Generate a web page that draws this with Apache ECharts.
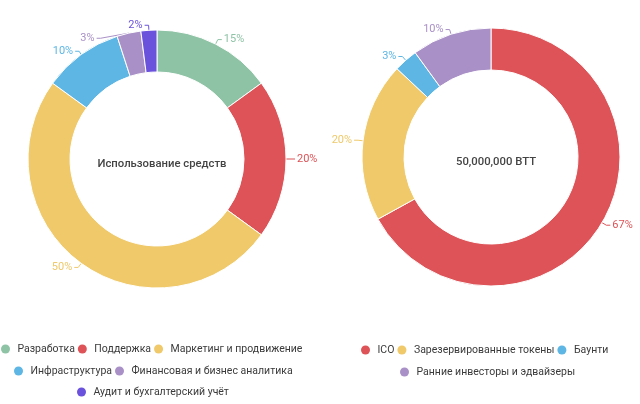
<!DOCTYPE html>
<html><head><meta charset="utf-8">
<script src="https://cdn.jsdelivr.net/npm/echarts@6/dist/echarts.min.js"></script>
<style>html,body{margin:0;padding:0;background:#fff}#c{width:640px;height:404px}</style>
</head><body><div id="c"></div>
<script>
const fundsCategories = ['Разработка','Поддержка','Маркетинг и продвижение','Инфраструктура','Финансовая и бизнес аналитика','Аудит и бухгалтерский учёт'];
const fundsValues = [15,20,50,10,3,2];
const fundsColors = ['#8fc3a6','#dd5357','#efc96a','#5db6e4','#a990c7','#6b52dc'];
const tokenCategories = ['ICO','Зарезервированные токены','Баунти','Ранние инвесторы и эдвайзеры'];
const tokenValues = [67,20,3,10];
const tokenColors = ['#dd5357','#efc96a','#5db6e4','#a990c7'];
const leftTitle = 'Использование средств';
const rightTitle = '50,000,000 BTT';

const font = 'Roboto, "Noto Sans", sans-serif';
const chart = echarts.init(document.getElementById('c'));

function pie(name, cats, vals, colors, center){
  return {
    type:'pie', name, center, radius:[87,129], startAngle:90, clockwise:true,
    avoidLabelOverlap:true,
    itemStyle:{borderColor:'#fff',borderWidth:1},
    label:{show:true, formatter:'{d}%', fontFamily:font, fontSize:11, overflow:'none', distanceToLabelLine:2},
    labelLine:{show:true, length:5, length2:4, lineStyle:{width:1}},
    emphasis:{disabled:true},
    data: cats.map((c,i)=>({name:c, value:vals[i], itemStyle:{color:colors[i]}, label:{color:colors[i]}, labelLine:{lineStyle:{color:colors[i]}}}))
  };
}
function legend(items, left, cy){
  return {data:items, left, top:cy-7, orient:'horizontal', icon:'circle', itemWidth:14, itemHeight:9, itemGap:3, padding:0,
    itemStyle:{borderWidth:0},
    textStyle:{fontFamily:font, fontSize:10.5, lineHeight:14, color:'#3a3a3a'}, selectedMode:false};
}
chart.setOption({
  animation:false,
  title:[
    {text:leftTitle, left:157, top:159, textAlign:'center', textVerticalAlign:'middle', textStyle:{fontFamily:font,fontSize:11.3,fontWeight:500,color:'#444'}},
    {text:rightTitle, left:491, top:157, textAlign:'center', textVerticalAlign:'middle', textStyle:{fontFamily:font,fontSize:11.3,fontWeight:500,color:'#444'}}
  ],
  legend:[
    legend(fundsCategories.slice(0,3), 1, 349),
    legend(fundsCategories.slice(3,5), 14, 371),
    legend(fundsCategories.slice(5), 77, 392),
    legend(tokenCategories.slice(0,3), 361, 350),
    legend(tokenCategories.slice(3), 400, 372)
  ],
  series:[
    pie('funds', fundsCategories, fundsValues, fundsColors, [157,159]),
    pie('tokens', tokenCategories, tokenValues, tokenColors, [491,157])
  ]
});
</script></body></html>
